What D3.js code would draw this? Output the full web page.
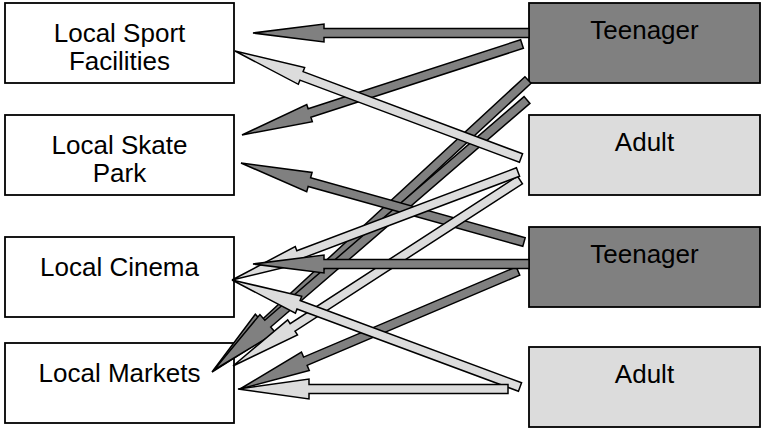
<!DOCTYPE html>
<html>
<head>
<meta charset="utf-8">
<script src="https://cdn.jsdelivr.net/npm/d3@7"></script>
<style>
  body { margin: 0; background: #fff; }
  text { font-family: "Liberation Sans", Arial, sans-serif; font-size: 26px; fill: #000; }
</style>
</head>
<body>
<div id="wrapper"></div>
<script>
// places (left column) and groups (right column)
const places = ["Local Sport|Facilities", "Local Skate|Park", "Local Cinema", "Local Markets"];
const groups = ["Teenager 1", "Adult 1", "Teenager 2", "Adult 2"];
const groupLabels = ["Teenager", "Adult", "Teenager", "Adult"];

// who goes where: [group, place], in drawing order
const links = [
  ["Teenager 1", "Local Skate|Park"],
  ["Teenager 1", "Local Markets"],
  ["Teenager 1", "Local Markets"],
  ["Teenager 2", "Local Skate|Park"],
  ["Teenager 2", "Local Markets"],
  ["Adult 1", "Local Sport|Facilities"],
  ["Adult 1", "Local Markets"],
  ["Adult 1", "Local Cinema"],
  ["Teenager 2", "Local Cinema"],
  ["Adult 2", "Local Cinema"],
  ["Adult 2", "Local Markets"],
  ["Teenager 1", "Local Sport|Facilities"],
];

// where each arrow leaves / lands, relative to its boxes (layout only)
// [tail dx from group box left, tail dy from group box top, tip dx from place box right, tip dy from place box top, head half width]
const anchors = [
  [-7, 41, 8, 20, 9],
  [-1, 77, -22, 29, 13],
  [-2, 97, -20, 27, 12],
  [-5, 15, 7, 48, 10],
  [-11, 44, 6, 46, 10],
  [-8, 43, 1, 48, 9],
  [-9, 65, -1, 23, 9],
  [-11, 57, -2, 43, 9],
  [0, 37, 19, 27, 9],
  [-9, 40, -2, 43, 9],
  [-21, 42, 4, 46, 10],
  [0, 30, 19, 30, 9],
];

const width = 761, height = 429;
const boxW = { left: 229, right: 231 }, boxH = 80;

const svg = d3.select("#wrapper").append("svg")
  .attr("width", width).attr("height", height);

const xScale = d3.scaleOrdinal().domain(["left", "right"]).range([5, 529]);
const yPlace = d3.scaleOrdinal().domain(places).range([3, 115, 237, 343]);
const yGroup = d3.scaleOrdinal().domain(groups).range([3, 115, 227, 347]);
const colorScale = d3.scaleOrdinal().domain(["Teenager", "Adult"]).range(["#808080", "#dcdcdc"]);
const groupKind = (g) => g.split(" ")[0];

// boxes
const placeBoxes = svg.selectAll(".place").data(places).enter().append("g").attr("class", "place");
placeBoxes.append("rect")
  .attr("x", xScale("left")).attr("y", (d) => yPlace(d))
  .attr("width", boxW.left).attr("height", boxH)
  .attr("fill", "#fff").attr("stroke", "#000").attr("stroke-width", 1.8);
placeBoxes.each(function (d) {
  const lines = d.split("|");
  d3.select(this).selectAll("text").data(lines).enter().append("text")
    .attr("x", xScale("left") + boxW.left / 2)
    .attr("y", (l, i) => yPlace(d) + 39 + i * 28)
    .attr("text-anchor", "middle")
    .text((l) => l);
});

const groupBoxes = svg.selectAll(".group").data(groups).enter().append("g").attr("class", "group");
groupBoxes.append("rect")
  .attr("x", xScale("right")).attr("y", (d) => yGroup(d))
  .attr("width", boxW.right).attr("height", boxH)
  .attr("fill", (d) => colorScale(groupKind(d))).attr("stroke", "#000").attr("stroke-width", 1.8);
groupBoxes.append("text")
  .attr("x", xScale("right") + boxW.right / 2)
  .attr("y", (d) => yGroup(d) + 36)
  .attr("text-anchor", "middle")
  .text((d, i) => groupLabels[i]);

// arrows
const shaft = 4.5, headLen = 71;
function arrowPath(t, p, headW) {
  const dx = p[0] - t[0], dy = p[1] - t[1];
  const len = Math.hypot(dx, dy);
  const ux = dx / len, uy = dy / len;
  const nx = -uy, ny = ux;
  const b = [p[0] - ux * headLen, p[1] - uy * headLen];
  const pts = [
    [t[0] + nx * shaft, t[1] + ny * shaft],
    [b[0] + nx * shaft, b[1] + ny * shaft],
    [b[0] + nx * headW, b[1] + ny * headW],
    p,
    [b[0] - nx * headW, b[1] - ny * headW],
    [b[0] - nx * shaft, b[1] - ny * shaft],
    [t[0] - nx * shaft, t[1] - ny * shaft],
  ];
  return d3.line()(pts) + "Z";
}

svg.selectAll(".arrow").data(links).enter().append("path")
  .attr("class", "arrow")
  .attr("d", (d, i) => {
    const a = anchors[i];
    const tail = [xScale("right") + a[0], yGroup(d[0]) + a[1]];
    const tip = [xScale("left") + boxW.left + a[2], yPlace(d[1]) + a[3]];
    return arrowPath(tail, tip, a[4]);
  })
  .attr("fill", (d) => colorScale(groupKind(d[0])))
  .attr("stroke", "#000")
  .attr("stroke-width", 1.5)
  .attr("stroke-linejoin", "miter");
</script>
</body>
</html>
